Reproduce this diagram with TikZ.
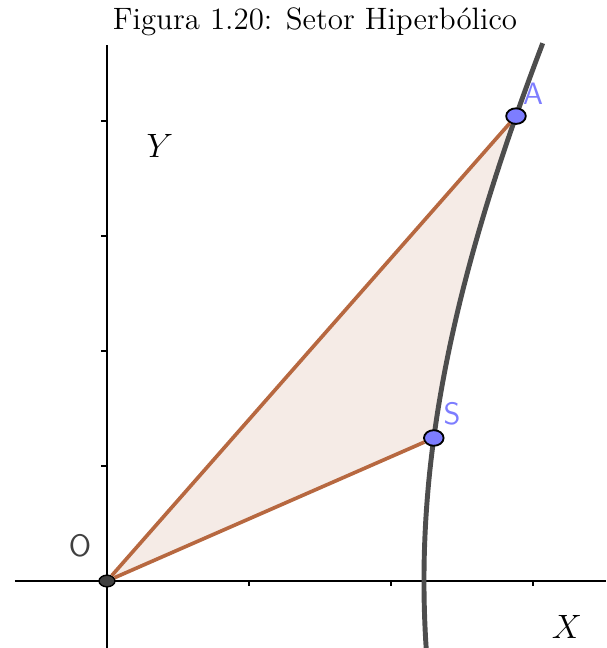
\documentclass[tikz,border=0pt]{standalone}
\usepackage{tikz}
\usetikzlibrary{shapes.geometric}
\definecolor{setorline}{RGB}{183,104,64}
\definecolor{setorfill}{RGB}{245,235,230}
\definecolor{hypgray}{RGB}{77,77,77}
\definecolor{ptblue}{RGB}{125,125,255}
\definecolor{ptgray}{RGB}{64,64,64}
\tikzset{
  eixo/.style={line width=0.55pt, black},
  hyp/.style={line width=1.75pt, hypgray},
  setor/.style={line width=1.3pt, setorline},
  pt/.style={ellipse, draw=black, line width=0.65pt, fill=ptblue, minimum width=0.245cm, minimum height=0.195cm, inner sep=0pt},
  ptO/.style={ellipse, draw=black, line width=0.5pt, fill=ptgray, minimum width=0.2cm, minimum height=0.145cm, inner sep=0pt},
  ptlabel/.style={font=\fontsize{11}{13}\selectfont\sffamily, text=ptblue},
  eixolabel/.style={font=\fontsize{11.5}{14}\selectfont}
}

\begin{document}
\begin{tikzpicture}[x=1.775cm, y=1.4375cm]
  \useasboundingbox (-0.7535,-0.5826) rectangle (3.514,5.052);

  % Setor hiperbolico
  \fill[setorfill] (0,0) -- plot[domain=0.2484:0.7448, samples=30] ({2.232*cosh(\x)},{4.957*sinh(\x)}) -- cycle;

  % Eixos
  \draw[eixo] (-0.648,0) -- (3.514,0);
  \draw[eixo] (0,-0.5826) -- (0,4.661);
  \foreach \i in {1,2,3} \draw[eixo] (\i,0) -- ++(0,-0.04);
  \foreach \j in {1,...,4} \draw[eixo] (0,\j) -- ++(-0.04,0);

  % Hiperbole
  \draw[hyp] plot[domain=-0.118:0.841, samples=60] ({2.232*cosh(\x)},{4.957*sinh(\x)});

  % Pontos
  \node[ptO] (O) at (0,0) {};
  \node[pt] (S) at ({2.232*cosh(0.2484)},{4.957*sinh(0.2484)}) {};
  \node[pt] (A) at ({2.232*cosh(0.7448)},{4.957*sinh(0.7448)}) {};

  % Lados do setor
  \draw[setor] (O) -- (A);
  \draw[setor] (O) -- (S);

  % Rotulos
  \node[ptlabel, text=ptgray] (labO) at (-0.19,0.304) {O};
  \node[ptlabel] (labS) at (2.43,1.452) {S};
  \node[ptlabel] (labA) at (3.0,4.235) {A};
  \node[eixolabel] (labY) at (0.373,3.78) {$Y$};
  \node[eixolabel] (labX) at (3.239,-0.4) {$X$};
  \node[font=\fontsize{11}{13}\selectfont] (titulo) at (1.465,4.861) {Figura 1.20: Setor Hiperbólico};
\end{tikzpicture}
\end{document}
